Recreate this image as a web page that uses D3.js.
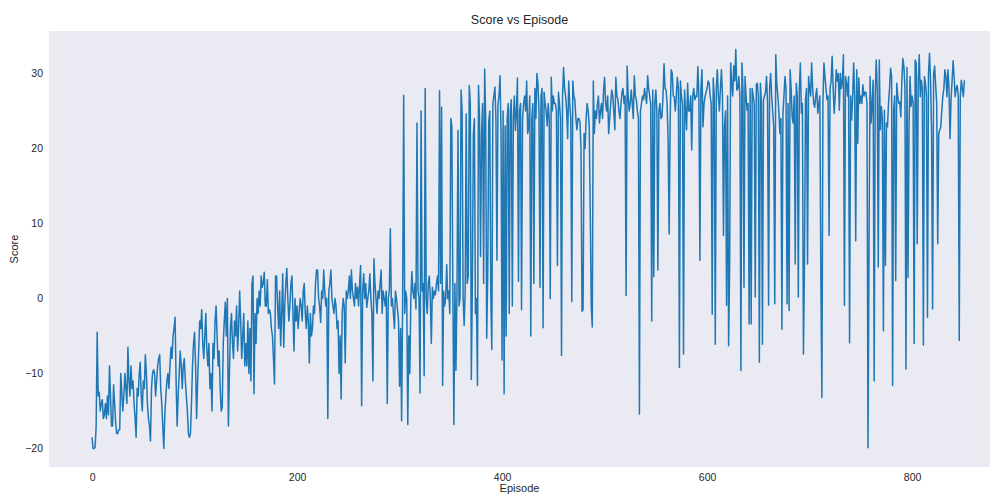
<!DOCTYPE html>
<html>
<head>
<meta charset="utf-8">
<script src="https://cdn.jsdelivr.net/npm/d3@7"></script>
<style>
  html, body { margin: 0; padding: 0; background: #ffffff; }
  svg { display: block; }
  text { font-family: "Liberation Sans", Arial, sans-serif; fill: #262626; }
</style>
</head>
<body>
<svg id="chart" width="993" height="495"></svg>
<script>
const title = "Score vs Episode";
const xLabel = "Episode";
const yLabel = "Score";
const xTicks = [0, 200, 400, 600, 800];
const yTicks = [-20, -10, 0, 10, 20, 30];

// Score per episode (index = episode)
const scores = [
  -18.5, -20, -20, -19.8, -17, -4.5, -13, -12.5, -15, -14,
  -13.5, -16, -15.5, -14, -16, -13, -15.5, -9, -13, -17,
  -17, -11.5, -14, -16.5, -18, -18, -17.5, -17.5, -10, -12.5,
  -15, -13, -10, -12, -14, -6.5, -11, -13, -9, -12,
  -11, -14, -16, -18.5, -12, -13, -10, -8.5, -13, -15,
  -11, -12, -7.5, -10, -14, -16, -17, -19, -12, -10,
  -9.5, -10, -13, -11, -9, -8, -7.5, -12, -14, -17,
  -20, -15.5, -13, -11, -10, -12, -9, -6.5, -8, -5,
  -4, -2.5, -11, -17, -13, -10, -7, -9, -12, -9,
  -8, -11, -13, -15, -18, -18.5, -18, -14, -9, -6,
  -4.5, -9, -16, -11, -7, -3, -4, -1.5, -6, -8,
  -5, -2, -7, -9, -6, -12, -10, -15, -6, -8,
  -3, -1, -5, -9, -7, -12, -15, -14.5, -6, -3,
  -0.5, -5, 0, -17, -10, -4, -2, -6, -8, -3,
  -5, -1, -7, -4, 1, -3, -8, -5, -2, -9,
  -6, -9, -3, -10, -4, -11, 2, 3, -12.7, -2,
  -6, 0, -2, 1, -1, 3, 1.5, 2, 3.5, -1,
  -1, 2.5, -2, -1.5, -2, -4, -5, -8, -11.4, 3,
  3, -1, -4, 1, -6.3, -2, 3.3, -6.5, -1, 2,
  4, 0, -3, -1, 2, 3, -2, -7, 0, -3,
  -1, -4, -2, 0, -1, -3, 1, 2, -2, -4,
  -1, -3, -8.6, -2, -5, -4, -1, -2, 2, 3.8,
  3.8, 0, -1, -3.2, 1, 0, 3.8, 1, -1, 0,
  -16, 1, 2, 3.8, 0, -1, -2, 0, -1, -4,
  -3, -10, -5, -13.4, -2, 0, -1, -8.6, 1, 0,
  1, 3, 0, 3.8, 1, 0, -1, 2, 0, 1.5,
  -1, 2, 4.4, -14.3, 1, 3.3, 0, 2, -1.2, 0,
  1, 3.3, 0, -2, -11, 5.3, 2, 0, -2, 1,
  0, 2, 3.8, -2, 1, 0, -1, 1, -14, 0,
  1, 9.3, -1, 0, -2, -4, 1, 0, -1.5, -3,
  -11.7, -4, -16.3, 0, 27.1, -2, 1, 0, -16.8, -5,
  -10, 0, 3.6, 1, 0, 2, -1.4, 23.4, 1, 0,
  -12.6, 25, 1, 2, -10.3, 28, 0, -2, 2, 3,
  0, -6, 1.5, 0, 1, 0.5, 2, 3, 1, 27.7,
  2, 25.5, -11.6, 1, -1, 0, 4.5, 0, 1, -2,
  24, 23, 1, -16.8, 2, -9.6, 1, 22.4, -1, 0,
  27.8, 25, 0, -3.6, 1, 24.6, 2, 3, 28.4, 26,
  -10.8, 2, 22, 24, -2, 0, -11.6, 28.4, 24, 5.6,
  22, 26, 2, 30.6, 24, -5.3, 3, 23.6, 25, 0.6,
  -6.8, 26, 27, 28.2, 24, 5.1, 26, 27, 29.7, 22,
  -8.2, 25, -12.7, 23, -5, 24, 26, -2, 25, 26.5,
  -1, 24, 27, 22.4, 25, 29.4, 2.3, 25, 26, -1.5,
  24, 26, 27, 25, 29, 22, 23, 27, -5, 24,
  26, 2, 28, 24, 30, 28.7, 25, 1.5, 27, 28,
  -3.9, 27.5, 26, 25, 23, 26, 24, 0, 29.5, 25,
  27, 26, 26, 25, 4.4, 27.5, 26, 24, -7.6, 27,
  30.8, 28, 27, 25, 21.3, 29, 26, 24, -0.4, 29,
  27, 26.5, 24, 22.5, 24, 24, 23.5, 20, -1.7, -1.5,
  22, 20, 24, 26, 25, 23, 12, -1, -3.8, 29,
  22, 25, 24, 26, 27, 23.4, 25, 26, 24, 27.8,
  29.5, 26, 25, 27, 22, 24, 26, 27.8, 27, 25,
  22.5, 29.5, 27, 26.5, 25, 24, 26, 27.5, 28, 26,
  27, 0.4, 31, 27, 25, 26, 27.8, 26, 24, 29.7,
  27, 26.5, 25, 24, -15.4, 25, 26, 27, 26.5, 28,
  27, 26, 29.7, 28, 27, 26, -3, 27.8, 2.9, 26,
  27.8, 25, 3.8, 25, 26, 24, 24.2, 27, 31.3, 28,
  27.8, 26, 21.1, 8.6, 24, 30.5, 30, 27, 26.9, 25,
  27, 29.5, 28, -9.2, 29, 27, 26, -7.4, 27.8, 25,
  22.5, 28.7, 25, 25, 27, 19.8, 27, 28, 26.5, 27,
  26.9, 30.9, 27, 5.1, 28, 30.5, 22.9, 26, 26.9, 27.5,
  28, 29, 28.7, 27, 26, -2.1, 29.4, 27, -6.1, 28,
  30.5, 27, 25, 28, 30.5, 27, 8.4, 22.9, 25, -0.9,
  27, -6.3, 4.2, 31.4, 28.7, 27, 31, 29, 33.2, 27.8,
  28, 29.6, 27, -9.6, 31.4, 28, 1.5, 29.6, 27, 25.1,
  26, -3.4, 28, -3.4, 28, 27, 26, 0.2, 28.5, 28.7,
  27, -8.5, 28.7, 26, -6.1, 26.5, 27, 27.5, 29.6, 26,
  -0.9, 28, 30, 27, 25, 22.9, -0.7, 32.5, 28.7, 27,
  25, 22, 24, -4.1, 24.7, 27, 29.6, 28, -0.7, 26,
  -1.6, 30.5, 28, 24.2, 23.4, 27, 4.6, 28.7, 27, 0.2,
  28, 31.4, 24.7, 26, -7.4, 4.6, 26.5, 28, 4.6, 29.6,
  28, 27, 31.4, 28, 26, 25.5, 27, 28, 24.7, 26,
  27, 2.9, -13.2, 26, 31.4, 29.6, 28, 26.5, 27, 8.4,
  28, 29, 32.3, 28, 24.7, 27, 30.5, 29, 30, 25.1,
  30, 28, 29, 32.5, -0.9, 29.6, 28.7, 27, 29.6, -5.9,
  27, 23.8, 26.9, 31.4, 26.9, 7.7, 30.5, 20.7, 29.4, 26,
  27, 26, 28.5, 27, 27.5, 27.5, 26, -19.9, 7.5, 29.6,
  23.4, 26, 29.1, -11, 27, 31.8, 28, 4.2, 31.8, 22.5,
  25.6, 24, -4.3, 25.1, 4.4, 23.4, 22.9, 26, 28, 30.7,
  29.6, -11.6, 25.1, 27, 2.4, 28.7, 27, 26, 26.2, 24.2,
  29, 32, 31, 28, -9.4, 30.8, 2.8, 22.9, 29.6, 25.6,
  27, 26, -6, 31.8, 31.4, 7.3, 29, 32.5, 26.9, 29.1,
  28, -6.2, 29.6, 28.7, 27, -2.5, 30, 32.7, 29.1, 22,
  -1.4, 30, 31, 28.4, 26, 7.3, 22, 22.5, 22.9, 25.1,
  27, 28, 30.5, 29.6, 26.9, 30.5, 28, 21.3, 26.5, 29,
  31.7, 29.6, 26.9, 28, 28.4, 27, -5.6, 26.9, 29.1, 28,
  26.9, 29.1
];
const episodes = scores.map((_, i) => i);

const svg = d3.select("#chart");
const plot = { left: 49, right: 990, top: 31, bottom: 467 };

const x = d3.scaleLinear().domain([-42, 876]).range([plot.left, plot.right]);
const y = d3.scaleLinear().domain([-22.47, 35.67]).range([plot.bottom, plot.top]);

svg.append("rect")
  .attr("x", plot.left).attr("y", plot.top)
  .attr("width", plot.right - plot.left).attr("height", plot.bottom - plot.top)
  .attr("fill", "#EAEAF2");

const line = d3.line()
  .x((d, i) => x(episodes[i]))
  .y(d => y(d));

svg.append("path")
  .datum(scores)
  .attr("d", line)
  .attr("fill", "none")
  .attr("stroke", "#1f77b4")
  .attr("stroke-width", 1.5)
  .attr("stroke-linejoin", "round");

const xAxis = svg.append("g")
  .attr("transform", `translate(0,${plot.bottom})`)
  .call(d3.axisBottom(x).tickValues(xTicks).tickSize(0).tickPadding(7).tickFormat(d3.format("d")));
const yAxis = svg.append("g")
  .attr("transform", `translate(${plot.left},0)`)
  .call(d3.axisLeft(y).tickValues(yTicks).tickSize(0).tickPadding(6).tickFormat(d3.format("d")));

[xAxis, yAxis].forEach(g => {
  g.select(".domain").remove();
  g.selectAll("text").style("font-family", '"Liberation Sans", Arial, sans-serif')
    .style("font-size", "10.5px").attr("fill", "#333");
});

svg.append("text")
  .attr("x", (plot.left + plot.right) / 2).attr("y", 24)
  .attr("text-anchor", "middle")
  .style("font-size", "12.5px").attr("fill", "#262626")
  .text(title);

svg.append("text")
  .attr("x", (plot.left + plot.right) / 2).attr("y", 492)
  .attr("text-anchor", "middle")
  .style("font-size", "11px").attr("fill", "#333")
  .text(xLabel);

svg.append("text")
  .attr("transform", `translate(18,${(plot.top + plot.bottom) / 2}) rotate(-90)`)
  .attr("text-anchor", "middle")
  .style("font-size", "11px").attr("fill", "#333")
  .text(yLabel);
</script>
</body>
</html>
